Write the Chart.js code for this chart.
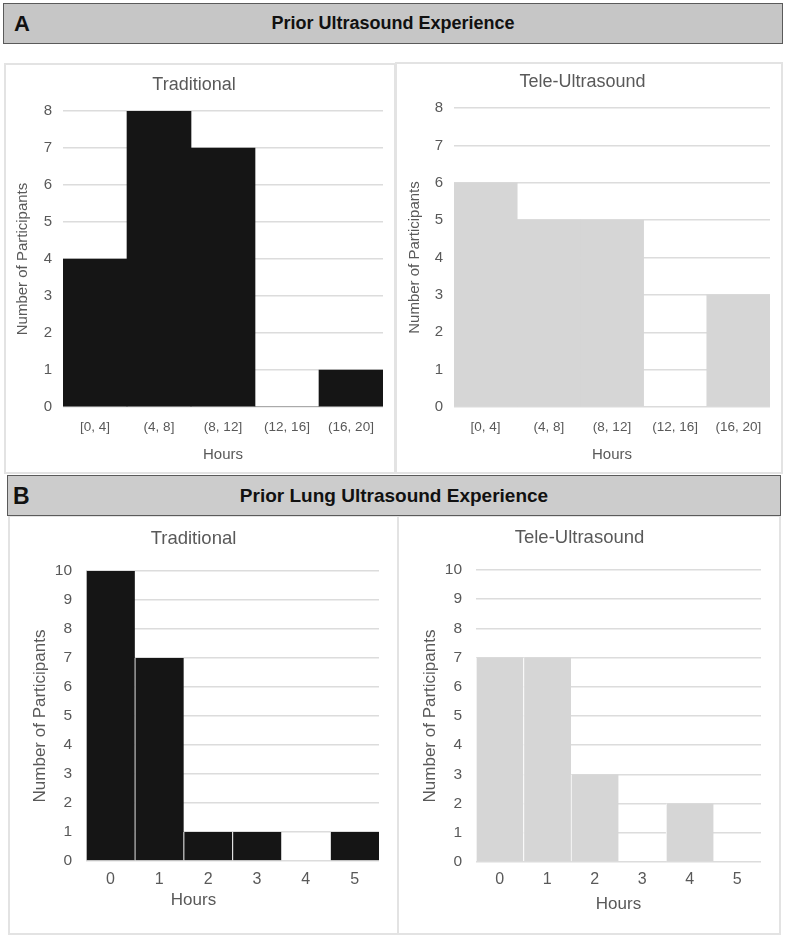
<!DOCTYPE html>
<html>
<head>
<meta charset="utf-8">
<script src="https://cdn.jsdelivr.net/npm/chart.js@4.4.1/dist/chart.umd.min.js"></script>
<style>
  body { margin: 0; background: #fff; width: 785px; height: 938px; position: relative; overflow: hidden;
         font-family: "Liberation Sans", Arial, sans-serif; }
  .box { position: absolute; border: 2px solid #e3e3e3; box-sizing: border-box; }
  .hdr { position: absolute; box-sizing: border-box; border: 1px solid #5a5a5a; color: #111;
         font-weight: bold; display: flex; align-items: center; justify-content: center; }
  .hdr .tag { position: absolute; top: 50%; transform: translateY(-50%); }
  canvas { position: absolute; }
</style>
</head>
<body>
<div class="box" style="left:4px;top:63px;width:392px;height:411px"></div>
<div class="box" style="left:395px;top:62px;width:388px;height:412px"></div>
<div class="box" style="left:8px;top:515px;width:391px;height:420px"></div>
<div class="box" style="left:397px;top:515px;width:384px;height:420px"></div>

<div class="hdr" style="left:3px;top:3px;width:780px;height:41px;background:#c6c6c6;font-size:18px">
  <span class="tag" style="left:10px;font-size:22px">A</span>Prior Ultrasound Experience
</div>
<div class="hdr" style="left:7px;top:475px;width:774px;height:41px;background:#cccccc;font-size:19px">
  <span class="tag" style="left:5px;font-size:23px">B</span>Prior Lung Ultrasound Experience
</div>

<canvas id="priorTrad" width="388" height="410" style="left:5px;top:63px"></canvas>
<canvas id="priorTele" width="387" height="411" style="left:395px;top:62px"></canvas>
<canvas id="lungTrad" width="390" height="420" style="left:8px;top:515px"></canvas>
<canvas id="lungTele" width="381" height="420" style="left:398px;top:515px"></canvas>

<script>
// histogram bins
const hourBins = ["[0, 4]", "(4, 8]", "(8, 12]", "(12, 16]", "(16, 20]"];
const lungHours = ["0", "1", "2", "3", "4", "5"];

// participant counts
const priorTraditional = [4, 8, 7, 0, 1];
const priorTele = [6, 5, 5, 0, 3];
const lungTraditional = [10, 7, 1, 1, 0, 1];
const lungTele = [7, 7, 3, 0, 2, 0];

const priorMax = 8;
const lungMax = 10;

const BLACK = "#151515";
const GRAY = "#d6d6d6";
const TEXT = "#595959";
const GRID = "#dcdcdc";

Chart.defaults.font.family = '"Liberation Sans", Arial, sans-serif';

const lh = (s) => s * 1.2;

function histogram(id, labels, values, color, title, yMax, g) {
  let bottomBox = 0;
  let subtitle = { display: false };
  const hoursPad = g.h - g.xTitleY - lh(g.axisSize) / 2;
  if (g.centerHours) {
    // this one is centred on the whole chart, not on the axis
    const pad = g.h - g.xTitleY - g.axisSize / 2;
    subtitle = {
      display: true, position: "bottom", text: "Hours", color: TEXT,
      font: { size: g.axisSize, weight: "normal", lineHeight: 1 },
      padding: { top: 0, bottom: pad },
    };
    bottomBox = pad + g.axisSize;
  }

  new Chart(document.getElementById(id), {
    type: "bar",
    data: {
      labels: labels,
      datasets: [{
        data: values,
        backgroundColor: color,
        borderColor: "#ffffff",
        borderWidth: g.sep ? { left: 1, right: 0, top: 0, bottom: 0 } : 0,
        borderSkipped: false,
        barPercentage: 1,
        categoryPercentage: 1,
      }],
    },
    options: {
      responsive: false,
      animation: false,
      layout: { padding: { left: 0, top: 0, right: g.w - g.r, bottom: 0 } },
      plugins: {
        legend: { display: false },
        tooltip: { enabled: false },
        title: {
          display: true, text: title, color: TEXT,
          font: { size: g.titleSize, weight: "normal" },
          padding: {
            top: g.titleY - lh(g.titleSize) / 2,
            bottom: g.t - g.titleY - lh(g.titleSize) / 2,
          },
        },
        subtitle: subtitle,
      },
      scales: {
        x: {
          grid: { display: false, drawTicks: false },
          border: { display: false },
          ticks: {
            color: TEXT, font: { size: g.xTickSize },
            padding: g.xTickY - g.b - lh(g.xTickSize) / 2,
            maxRotation: 0, autoSkip: false,
          },
          title: {
            display: !g.centerHours, text: "Hours", color: TEXT,
            font: { size: g.axisSize },
            padding: { top: 0, bottom: hoursPad },
          },
          afterFit: (s) => { s.height = g.h - bottomBox - g.b; },
        },
        y: {
          min: 0, max: yMax,
          ticks: { stepSize: 1, color: TEXT, font: { size: g.tickSize }, padding: g.tickGap },
          grid: { color: GRID, lineWidth: 1.5, drawTicks: false },
          border: { display: false },
          title: {
            display: true, text: "Number of Participants", color: TEXT,
            font: { size: g.axisSize },
            padding: { top: g.yTitleX - lh(g.axisSize) / 2, bottom: 0 },
          },
          afterFit: (s) => { s.width = g.l; },
        },
      },
    },
  });
}

const partA = { titleSize: 18, tickSize: 15, xTickSize: 13.5, axisSize: 15, tickGap: 11 };
const partB = { titleSize: 18.5, tickSize: 15.5, xTickSize: 16, axisSize: 17, tickGap: 14, sep: true };

histogram("priorTrad", hourBins, priorTraditional, BLACK, "Traditional", priorMax,
  { ...partA, w: 388, h: 410, l: 58, t: 48, r: 378, b: 344, titleY: 22, yTitleX: 18, xTickY: 364, xTitleY: 392 });
histogram("priorTele", hourBins, priorTele, GRAY, "Tele-Ultrasound", priorMax,
  { ...partA, w: 387, h: 411, l: 59, t: 46, r: 375, b: 345, titleY: 20, yTitleX: 20, xTickY: 365, xTitleY: 393 });
histogram("lungTrad", lungHours, lungTraditional, BLACK, "Traditional", lungMax,
  { ...partB, w: 390, h: 420, l: 78, t: 56, r: 371, b: 346, titleY: 24, yTitleX: 32, xTickY: 365, xTitleY: 385, centerHours: true });
histogram("lungTele", lungHours, lungTele, GRAY, "Tele-Ultrasound", lungMax,
  { ...partB, w: 381, h: 420, l: 78, t: 55, r: 363, b: 347, titleY: 23, yTitleX: 32, xTickY: 365, xTitleY: 389 });
</script>
</body>
</html>
